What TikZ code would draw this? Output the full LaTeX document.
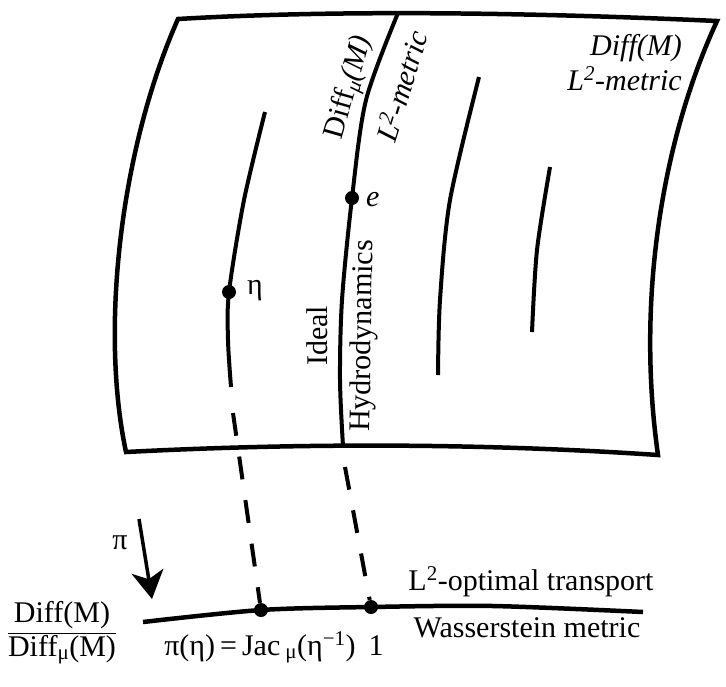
\documentclass[tikz,border=0pt]{standalone}
\usepackage{fontspec}
\setmainfont{Liberation Serif}
\usetikzlibrary{arrows.meta}
\begin{document}
\begin{tikzpicture}[x=1pt,y=-1pt,
  every node/.style={font=\fontsize{30}{35}\selectfont, inner sep=0pt},
  sheet/.style={line width=4.5pt, line join=miter},
  orbit/.style={line width=4pt},
  dotnode/.style={circle, fill=black, minimum size=14pt, inner sep=0pt},
  dashline/.style={line width=4pt, dash pattern=on 23pt off 21pt},
  quot/.style={line width=4.5pt}]
\useasboundingbox (0,0) rectangle (726,686);

% sheet Diff(M)
\draw[sheet] (178,19) .. controls (330,10) and (520,12) .. (717,21)
  .. controls (662,140) and (636,300) .. (658,455)
  .. controls (480,443) and (300,443) .. (126,452)
  .. controls (100,330) and (120,150) .. cycle;

% orbits
\draw[orbit] plot[smooth] coordinates {(398,13) (366,100) (352,198) (342,300) (340,380) (343,446)};
\draw[orbit] plot[smooth] coordinates {(265,112) (244,200) (229,292) (228,340) (231,387)};
\draw[orbit] plot[smooth] coordinates {(479,77) (450,200) (440,300) (438,375)};
\draw[orbit] plot[smooth] coordinates {(550,167) (537,250) (532,332)};

% quotient curve
\draw[quot] plot[smooth] coordinates {(143,622) (261,610) (371,607) (493,606) (643,612)};

% dots
\node[dotnode] (e) at (352,198) {};
\node[dotnode] (eta) at (229,292) {};
\node[dotnode] (pieta) at (261,610) {};
\node[dotnode] (one) at (371,607) {};

% dashed projections
\coordinate (etaend) at (233,413);
\coordinate (eend) at (345,467);
\draw[dashline] (etaend) -- (pieta);
\draw[dashline] (eend) -- (one);

% projection arrow
\coordinate (pistart) at (139,519);
\coordinate (pitip) at (152,599);
\draw[line width=3.5pt, -{Stealth[length=28pt,width=32pt,inset=8pt]}] (pistart) -- (pitip);
\node (pilabel) at (120,543) {π};

% labels in the sheet
\node[anchor=base east] (diffM) at (682,55) {\textit{Diff(M)}};
\node[anchor=base east] (l2m) at (682,90) {\textit{L\textsuperscript{2}-metric}};
\node[rotate=74] (diffmu) at (350,88) {Diff\textsubscript{\textit{μ}}\textit{(M)}};
\node[rotate=73] (l2mu) at (401,86) {\textit{L\textsuperscript{2}-metric}};
\node[anchor=base west] (elabel) at (366,206) {\textit{e}};
\node[anchor=base west] (etalabel) at (247,294) {η};
\node[rotate=90] (ideal) at (317,336) {Ideal};
\node[rotate=89] (hydro) at (364,336) {Hydrodynamics};

% bottom labels
\node[anchor=base] (frac) at (62,639) {$\displaystyle\frac{\mbox{Diff(M)}}{\mbox{Diff\textsubscript{μ}(M)}}$};
\node[anchor=base] (jac) at (260,655) {π(η)\,=\,Jac\,\textsubscript{μ}(η\textsuperscript{−1})};
\node[anchor=base] (onelabel) at (376,655) {1};
\node[anchor=base] (opt) at (531,590) {L\textsuperscript{2}-optimal transport};
\node[anchor=base] (wass) at (527,637) {Wasserstein metric};
\end{tikzpicture}
\end{document}
